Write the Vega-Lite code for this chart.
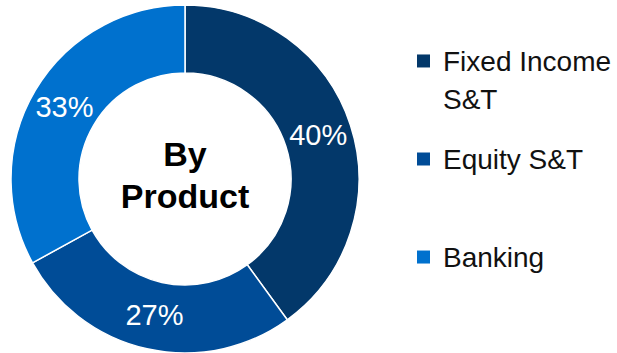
{
  "$schema": "https://vega.github.io/schema/vega-lite/v6.json",
  "padding": 0,
  "autosize": {"type": "pad"},
  "background": "white",
  "spacing": 40,
  "config": {"font": "Liberation Sans", "view": {"stroke": null}},
  "datasets": {
    "slices": [
      {"category": "Fixed Income S&T", "value": 40, "order": 1, "label": "40%", "legendText": "Fixed Income|S&T"},
      {"category": "Equity S&T", "value": 27, "order": 2, "label": "27%", "legendText": "Equity S&T"},
      {"category": "Banking", "value": 33, "order": 3, "label": "33%", "legendText": "Banking"}
    ]
  },
  "hconcat": [
    {
      "width": 370,
      "height": 358,
      "data": {"name": "slices"},
      "layer": [
        {
          "mark": {"type": "arc", "outerRadius": 174, "innerRadius": 106, "stroke": "#ffffff", "strokeWidth": 1.5},
          "encoding": {
            "theta": {"field": "value", "type": "quantitative", "stack": true},
            "order": {"field": "order", "type": "quantitative", "sort": "ascending"},
            "color": {
              "field": "category",
              "type": "nominal",
              "scale": {
                "domain": ["Fixed Income S&T", "Equity S&T", "Banking"],
                "range": ["#03386a", "#004c97", "#0071ce"]
              },
              "legend": null
            }
          }
        },
        {
          "mark": {"type": "text", "radius": 140, "fontSize": 29, "color": "#ffffff", "font": "Liberation Sans"},
          "encoding": {
            "theta": {"field": "value", "type": "quantitative", "stack": true},
            "order": {"field": "order", "type": "quantitative", "sort": "ascending"},
            "text": {"field": "label", "type": "nominal"}
          }
        },
        {
          "data": {"values": [{"t": "By|Product"}]},
          "mark": {"type": "text", "fontSize": 34, "fontWeight": "bold", "lineBreak": "|", "lineHeight": 42, "color": "#000000", "baseline": "middle", "dy": -23, "font": "Liberation Sans"},
          "encoding": {"text": {"field": "t", "type": "nominal"}}
        }
      ]
    },
    {
      "width": 27,
      "height": 318,
      "data": {"name": "slices"},
      "encoding": {
        "y": {
          "field": "category",
          "type": "nominal",
          "scale": {"type": "point", "domain": ["Fixed Income S&T", "Equity S&T", "Banking"], "padding": 0.622},
          "axis": null
        }
      },
      "layer": [
        {
          "mark": {"type": "square", "size": 169, "filled": true, "opacity": 1},
          "encoding": {
            "color": {
              "field": "category",
              "type": "nominal",
              "scale": {
                "domain": ["Fixed Income S&T", "Equity S&T", "Banking"],
                "range": ["#03386a", "#004c97", "#0071ce"]
              },
              "legend": null
            }
          }
        },
        {
          "mark": {"type": "text", "align": "left", "baseline": "alphabetic", "dx": 19.5, "dy": 10, "fontSize": 28, "lineHeight": 38, "lineBreak": "|", "color": "#111111", "font": "Liberation Sans"},
          "encoding": {"text": {"field": "legendText", "type": "nominal"}}
        }
      ]
    }
  ],
  "resolve": {"scale": {"color": "shared"}}
}
